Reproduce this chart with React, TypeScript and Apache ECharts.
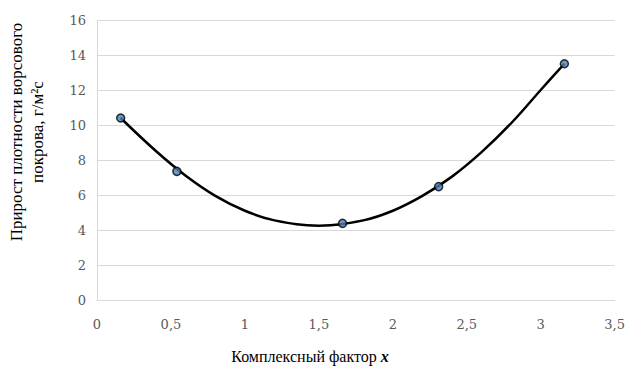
import React, { useEffect, useRef } from "react";
import * as echarts from "echarts";

const pointX = [0.16, 0.54, 1.66, 2.31, 3.16];
const pointY = [10.4, 7.35, 4.38, 6.48, 13.5];

const trendX = [0.16, 0.4, 0.6, 0.8, 1.0, 1.2, 1.5, 1.8, 2.0, 2.2, 2.4, 2.6, 2.8, 3.0, 3.16];
const trendY = [10.4, 8.5, 7.1, 5.95, 5.1, 4.55, 4.25, 4.55, 5.1, 5.95, 7.05, 8.45, 10.1, 12.0, 13.5];

const yTitleLines = ["Прирост плотности ворсового", "покрова, г/м²с"];
const xTitle = "Комплексный фактор ";
const xTitleVar = "x";

export default function App() {
  const ref = useRef<HTMLDivElement>(null);
  useEffect(() => {
    if (!ref.current) return;
    const chart = echarts.init(ref.current, null, { renderer: "svg" });
    const font = "Liberation Serif";
    const tickFont = "DejaVu Serif";
    chart.setOption({
      animation: false,
      grid: { left: 97, right: 10, top: 20, bottom: 68 },
      xAxis: {
        type: "value",
        min: 0,
        max: 3.5,
        interval: 0.5,
        axisLine: { show: true, lineStyle: { color: "#d9d9d9", width: 1 } },
        axisTick: { show: false },
        splitLine: { show: false },
        axisLabel: {
          color: "#595959",
          fontFamily: tickFont,
          fontSize: 13,
          margin: 18,
          formatter: (v: number) => String(v).replace(".", ","),
        },
      },
      yAxis: {
        type: "value",
        min: 0,
        max: 16,
        interval: 2,
        axisLine: { show: true, lineStyle: { color: "#d9d9d9", width: 1 } },
        axisTick: { show: false },
        splitLine: { show: true, lineStyle: { color: "#d9d9d9", width: 1 } },
        axisLabel: { color: "#595959", fontFamily: tickFont, fontSize: 13, margin: 11 },
      },
      graphic: [
        {
          type: "text",
          x: 27,
          y: 132,
          rotation: Math.PI / 2,
          style: {
            text: yTitleLines.join("\n"),
            fill: "#000",
            fontFamily: font,
            fontSize: 17,
            lineHeight: 21,
            align: "center",
            verticalAlign: "middle",
          },
        },
        {
          type: "text",
          x: 310,
          y: 356,
          style: {
            text: "{a|" + xTitle + "}{b|" + xTitleVar + "}",
            align: "center",
            verticalAlign: "middle",
            rich: {
              a: { fontFamily: font, fontSize: 16, fill: "#000" },
              b: { fontFamily: font, fontSize: 16, fill: "#000", fontWeight: "bold", fontStyle: "italic" },
            },
          },
        },
      ],
      series: [
        {
          type: "line",
          data: trendX.map((x, i) => [x, trendY[i]]),
          smooth: 0.4,
          showSymbol: false,
          symbol: "none",
          lineStyle: { color: "#000", width: 2.5 },
          z: 2,
        },
        {
          type: "scatter",
          data: pointX.map((x, i) => [x, pointY[i]]),
          symbol: "circle",
          symbolSize: 8,
          itemStyle: { color: "#4a7ebb", borderColor: "#000", borderWidth: 1.5 },
          z: 3,
        },
      ],
    });
    return () => chart.dispose();
  }, []);
  return <div ref={ref} style={{ width: 628, height: 368, position: "absolute", left: 0, top: 0 }} />;
}
